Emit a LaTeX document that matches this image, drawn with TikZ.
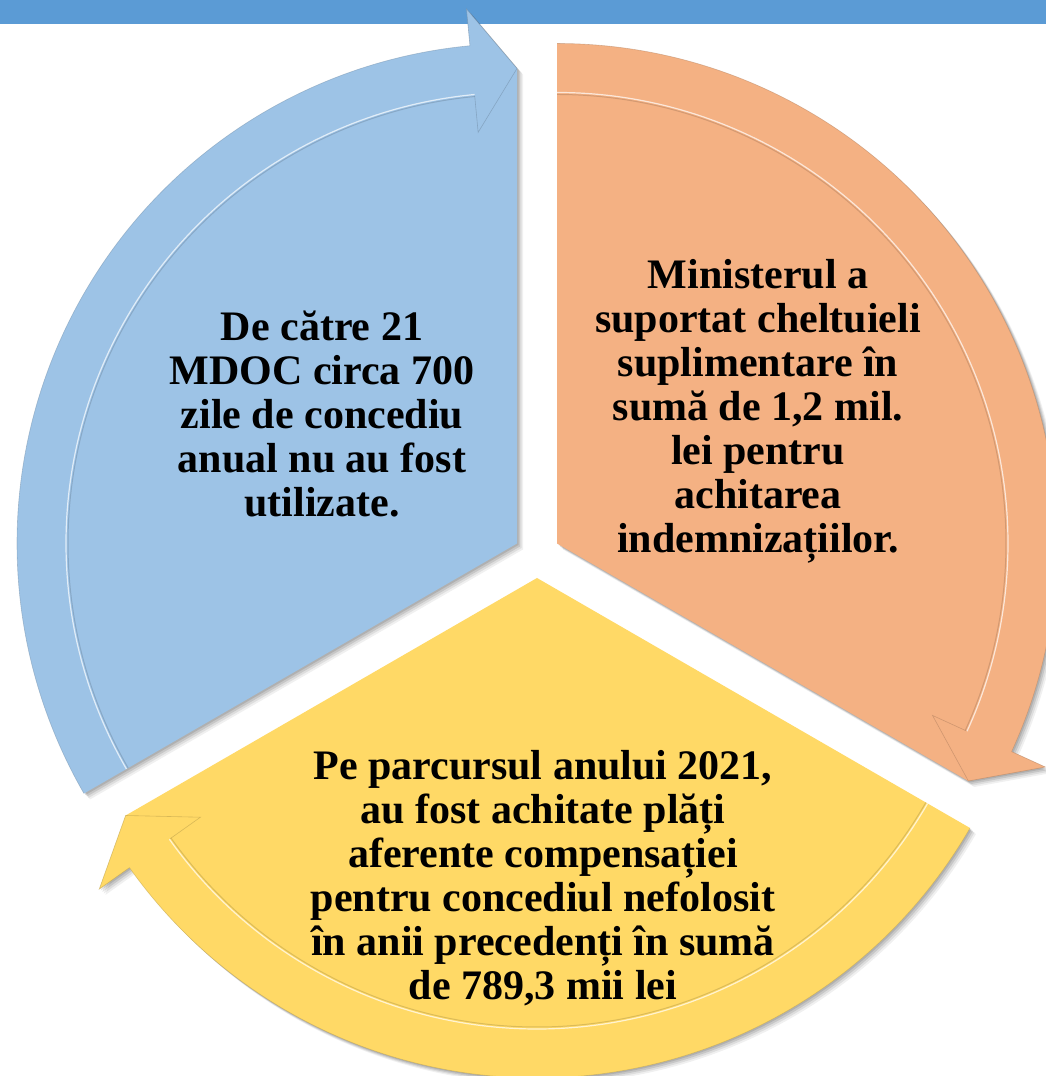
\documentclass[tikz,border=0pt]{standalone}
\usepackage{fontspec}
\setmainfont{Liberation Serif}
\definecolor{cblue}{HTML}{9DC3E6}
\definecolor{corange}{HTML}{F4B183}
\definecolor{cyellow}{HTML}{FFD966}
\definecolor{cbar}{HTML}{5B9BD5}
% #1 tail angle, #2 head angle, #3 arrowhead back angle
\newcommand\segshape[3]{(0,0) -- (#1:475pt) arc[start angle=#1, end angle=#2, radius=475pt] -- cycle
  (#1:500pt) arc[start angle=#1, end angle=#3, radius=500pt] -- (#3:537pt) -- (#2:475pt) -- (#3:413pt) -- (#3:450pt)
  arc[start angle=#3, end angle=#1, radius=450pt] -- cycle}
\newcommand\segheadshape[3]{(#3:500pt) -- (#3:537pt) -- (#2:475pt) -- (#3:413pt) -- (#3:450pt)}
\newcommand\cycseg[4]{%
  \foreach \s/\o in {1.5/0.10,3/0.10,4.5/0.08,6/0.06}{%
    \fill[black, opacity=\o, shift={(\s pt,-\s pt)}] \segshape{#1}{#2}{#3};}
  \fill[#4] \segshape{#1}{#2}{#3};
  \draw[#4!75!black, line width=0.6pt, opacity=0.6] \segheadshape{#1}{#2}{#3};
  \draw[#4!75!black, line width=0.6pt, opacity=0.5] (#1:500pt) arc[start angle=#1, end angle=#3, radius=500pt];
  \draw[#4!70!black, line width=1pt, opacity=0.45] (#1:449pt) arc[start angle=#1, end angle=#3, radius=449pt];
  \draw[white, line width=1.2pt, opacity=0.7] (#1:451pt) arc[start angle=#1, end angle=#3, radius=451pt];
}
\tikzset{segtext/.style={font=\fontsize{42}{44}\selectfont\bfseries, align=center, text=black}}
\begin{document}
\begin{tikzpicture}[x=1pt,y=1pt]
\useasboundingbox (0,0) rectangle (1046,1076);
\fill[white] (0,0) rectangle (1046,1076);
\fill[cbar] (0,1052) rectangle (1046,1076);
\begin{scope}[shift={(517,532.5)}]
  \cycseg{210}{90}{95.4}{cblue}
\end{scope}
\begin{scope}[shift={(557,532.5)}]
  \cycseg{90}{-30}{-24.6}{corange}
\end{scope}
\begin{scope}[shift={(537,498)}]
  \cycseg{-30}{-150}{-144.6}{cyellow}
\end{scope}
\node[segtext] (tblue) at (322,662) {De către 21\\MDOC circa 700\\zile de concediu\\anual nu au fost\\utilizate.};
\node[segtext] (torange) at (758,665) {Ministerul a\\suportat cheltuieli\\suplimentare în\\sumă de 1,2 mil.\\lei pentru\\achitarea\\indemnizațiilor.};
\node[segtext] (tyellow) at (543,198) {Pe parcursul anului 2021,\\au fost achitate plăți\\aferente compensației\\pentru concediul nefolosit\\în anii precedenți în sumă\\de 789,3 mii lei};
\end{tikzpicture}
\end{document}
